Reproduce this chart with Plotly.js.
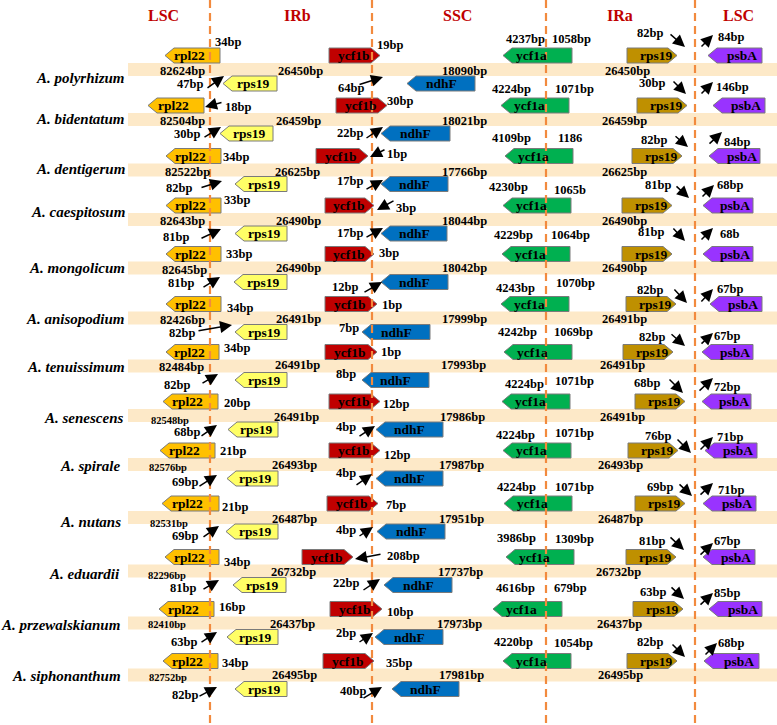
<!DOCTYPE html>
<html><head><meta charset="utf-8">
<script src="https://cdn.plot.ly/plotly-3.0.1.min.js"></script>
<style>html,body{margin:0;padding:0;background:#fff}</style>
</head><body><div id="chart" style="width:777px;height:725px"></div>
<script>
// ================= DATA =================
const species = ['A. polyrhizum','A. bidentatum','A. dentigerum','A. caespitosum','A. mongolicum','A. anisopodium','A. tenuissimum','A. senescens','A. spirale','A. nutans','A. eduardii','A. przewalskianum','A. siphonanthum'];
const regions = ['LSC','IRb','SSC','IRa','LSC'];
const lscLen = ['82624bp','82504bp','82522bp','82643bp','82645bp','82426bp','82484bp','82548bp','82576bp','82531bp','82296bp','82410bp','82752bp'];
const irbLen = ['26450bp','26459bp','26625bp','26490bp','26490bp','26491bp','26491bp','26491bp','26493bp','26487bp','26732bp','26437bp','26495bp'];
const sscLen = ['18090bp','18021bp','17766bp','18044bp','18042bp','17999bp','17993bp','17986bp','17987bp','17951bp','17737bp','17973bp','17981bp'];
const iraLen = ['26450bp','26459bp','26625bp','26490bp','26490bp','26491bp','26491bp','26491bp','26493bp','26487bp','26732bp','26437bp','26495bp'];
const rpl22Gap = ['34bp','18bp','34bp','33bp','33bp','34bp','34bp','20bp','21bp','21bp','34bp','16bp','34bp'];
const rps19bGap = ['47bp','30bp','82bp','81bp','81bp','82bp','82bp','68bp','69bp','69bp','81bp','63bp','82bp'];
const ycf1bGap = ['19bp','30bp','1bp','3bp','3bp','1bp','1bp','12bp','12bp','7bp','208bp','10bp','35bp'];
const ndhFGap = ['64bp','22bp','17bp','17bp','12bp','7bp','8bp','4bp','4bp','4bp','22bp','2bp','40bp'];
const ycf1aSSC = ['4237bp','4224bp','4109bp','4230bp','4229bp','4243bp','4242bp','4224bp','4224bp','4224bp','3986bp','4616bp','4220bp'];
const ycf1aIRa = ['1058bp','1071bp','1186','1065b','1064bp','1070bp','1069bp','1071bp','1071bp','1071bp','1309bp','679bp','1054bp'];
const rps19aGap = ['82bp','30bp','82bp','81bp','81bp','82bp','82bp','68bp','76bp','69bp','81bp','63bp','82bp'];
const psbAGap = ['84bp','146bp','84bp','68bp','68b','67bp','67bp','72bp','71bp','71bp','67bp','85bp','68bp'];

// gene extents along the diagram scale (start, end)
const rpl22Start = [165,148,166,166,166,166,166,163,160,162,165,159,163];
const rpl22End   = [220,204,221,221,221,221,219,218,215,219,219,214,218];
const ycf1bStart = [329,336,316,325,325,325,325,329,329,327,302,330,323];
const ycf1bEnd   = [380,387,368,374,374,377,377,380,380,378,353,382,374];
const ycf1aStart = [503,501,505,503,502,501,504,502,503,504,506,493,503];
const ycf1aEnd   = [572,569,573,571,570,569,572,570,571,572,574,562,571];
const rps19aStart= [627,637,632,622,622,626,623,635,628,635,626,633,627];
const rps19aEnd  = [677,687,682,672,672,676,673,685,678,685,676,683,677];
const psbAStart  = [708,713,709,703,703,710,702,702,705,703,703,709,704];
const psbAEnd    = [762,765,760,753,753,762,753,751,757,756,755,762,759];
const rps19bStart= [223,220,235,235,234,235,235,228,227,226,233,227,235];
const rps19bEnd  = [277,273,287,287,287,287,287,278,278,278,286,278,287];
const ndhFStart  = [407,381,381,381,381,362,362,376,376,377,384,375,392];
const ndhFEnd    = [475,450,448,447,448,430,429,443,443,445,452,443,459];

// ================= LAYOUT (positions) =================
const W = 777, H = 725;
const SERIF = '"Liberation Serif", "Times New Roman", serif';
const rowY = [69.5,119.5,170,219.5,268,318,366,415.5,464.5,517.5,571,623,675];
const bandHalf = 6.5, geneH = 15, tip = 9;
const boundaries = [210,372,546,695];
const regionX = [163,297,457,620,738];
const speciesDy = [8.5,-0.5,-1,-7.5,0,1,1,2.5,1.5,4.5,3,2,1];
const speciesX = [127,127,127,127,127,127,127,125,123,123,122,122,123];
const lscX = [182,182,187,182,184,182,181,170,168,169,167,167,168];
const lscDy = [1.5,1.5,2,1.5,2,2,1,4.5,2.5,5.5,4,1,2];
const irbX = [300,298,297,298,298,298,297,296,294,294,293,292,294];
const sscX = [464,464,464,464,464,464,463,462,461,461,460,459,461];
const iraX = [627,624,624,624,624,624,622,622,620,620,618,619,620];
const midDy = [1.5,1.5,2,1.5,-0.5,1,-1,1.5,0,1.5,1,1,0];

const LBL = {
  rpl22: [[228,-27.5],[238,-12.5],[236,-13],[237,-19.5],[239,-14],[240,-10],[237,-18],[237,-12.5],[233,-13.5],[235,-10.5],[237,-9],[232,-16],[235,-12]],
  rps19b:[[190,14.5],[187,14.5],[179,18],[176,17.5],[181,15],[182,15],[177,19],[187,16.5],[185,17.5],[185,18.5],[183,17],[184,19],[185,20]],
  ycf1b: [[390,-24.5],[400,-18.5],[397,-16],[406,-11.5],[389,-15],[392,-13],[391,-14],[396,-11.5],[397,-9.5],[396,-12.5],[403,-15],[400,-11],[399,-12]],
  ndhF:  [[351,18.5],[350,13.5],[350,11],[350,13.5],[345,19],[349,10],[346,8],[346,11.5],[346,8.5],[346,12.5],[346,12],[346,10],[353,16]],
  ssc:   [[525,-30.5],[511,-30.5],[511,-32],[508,-32.5],[513,-33],[515,-30],[517,-34],[524,-31.5],[515,-29.5],[516,-30.5],[516,-33],[515,-35],[513,-33]],
  ira:   [[571,-30.5],[574,-30.5],[570,-32],[570,-29.5],[570,-33],[575,-35],[573,-34],[574,-34.5],[574,-31.5],[574,-30.5],[574,-32],[570,-35],[573,-32]],
  rps19a:[[650,-36.5],[652,-36.5],[654,-30],[658,-34.5],[651,-36],[650,-28],[652,-29],[647,-32.5],[658,-28.5],[660,-30.5],[652,-30],[653,-31],[650,-33]],
  psbA:  [[731,-32.5],[732,-32.5],[737,-28],[730,-34.5],[730,-34],[730,-29],[727,-30],[727,-28.5],[730,-27.5],[731,-28],[727,-30],[727,-30],[731,-32]]
};
const ARR = {
  rpl22: [null,[223,-17.5,205,-12.5],null,null,null,null,null,null,null,null,null,null,null],
  rps19b:[[206,19.5,224,6.5],[203,18.5,221,7.5],[200,18,222,11],[200,19.5,221,9.5],[202,20,220,9],[197,13,232,7],[201,18,218,8],[200,21.5,217,9.5],[198,22.5,217,10.5],[202,20.5,219,8.5],[202,19,219,9],[200,20,217,9],[198,22,217,12]],
  ycf1b: [null,null,[386,-21,370,-13],[395,-19.5,377,-9.5],null,null,null,null,null,null,[382,-17,355,-12],null,null],
  ndhF:  [[358,15.5,383,7.5],[365,19.5,383,7.5],[365,20,383,10],[365,18.5,383,8.5],[363,25,382,14],null,null,[358,21.5,375,10.5],[355,21.5,372,9.5],[358,19.5,373,9.5],[362,20,380,8],[358,20,373,10],[362,24,382,12]],
  rps19a:[[669,-36.5,685,-22.5],[672,-39.5,686,-25.5],[674,-35,688,-23],[675,-34.5,689,-21.5],[672,-41,685,-27],[673,-30,687,-15],[670,-33,685,-20],[668,-37.5,683,-22.5],[676,-26.5,691,-11.5],[678,-34.5,692,-21.5],[669,-35,684,-21],[670,-37,684,-24],[671,-32,685,-18]],
  psbA:  [[700,-21.5,713,-34.5],[700,-24.5,713,-37.5],[708,-25,722,-38],[701,-21.5,714,-34.5],[700,-27,713,-40],[700,-15,713,-29],[700,-21,713,-33],[698,-23.5,713,-37.5],[699,-13.5,713,-27.5],[699,-21.5,713,-34.5],[699,-15,713,-28],[699,-17,713,-30],[704,-19,717,-32]]
};

const GENES = [
  {name:'rpl22', s:rpl22Start, e:rpl22End, side:'top', dir:'L', color:'#FFC000', dx:-3},
  {name:'ycf1b', s:ycf1bStart, e:ycf1bEnd, side:'top', dir:'R', color:'#C00000', dx:-1},
  {name:'ycf1a', s:ycf1aStart, e:ycf1aEnd, side:'top', dir:'L', color:'#00B050', dx:-6},
  {name:'rps19', s:rps19aStart, e:rps19aEnd, side:'top', dir:'R', color:'#BF9000', dx:4},
  {name:'psbA',  s:psbAStart, e:psbAEnd, side:'top', dir:'L', color:'#9933FF', dx:7},
  {name:'rps19', s:rps19bStart, e:rps19bEnd, side:'bot', dir:'L', color:'#FFFF66', dx:3},
  {name:'ndhF',  s:ndhFStart, e:ndhFEnd, side:'bot', dir:'L', color:'#0070C0', dx:0}
];

// ================= BUILD =================
const shapes = [], ann = [];
function genePath(x0, x1, yT, yB, dir){
  const yc = (yT+yB)/2;
  if (dir === 'L') return `M${x0},${yc} L${x0+tip},${yT} L${x1},${yT} L${x1},${yB} L${x0+tip},${yB} Z`;
  return `M${x0},${yT} L${x1-tip},${yT} L${x1},${yc} L${x1-tip},${yB} L${x0},${yB} Z`;
}
function txt(x, y, text, size, extra){
  return Object.assign({x, y, xref:'x', yref:'y', text:'<b>'+text+'</b>', showarrow:false,
    xanchor:'center', yanchor:'middle', font:{family:SERIF, size, color:'#000'}}, extra||{});
}
function arrow(a, yc){
  if (!a) return;
  ann.push({x:a[2], y:yc+a[3], ax:a[0], ay:yc+a[1], xref:'x', yref:'y', axref:'x', ayref:'y',
    text:'', showarrow:true, arrowhead:2, arrowsize:1.6, arrowwidth:1.5, arrowcolor:'#000', standoff:0, startstandoff:0});
}

species.forEach((sp, i) => {
  const y = rowY[i];
  shapes.push({type:'rect', xref:'x', yref:'y', x0:128, x1:W, y0:y-bandHalf, y1:y+bandHalf,
    fillcolor:'#FDE9C8', line:{width:0}, layer:'below'});
  ann.push(txt(speciesX[i], y+speciesDy[i], '<i>'+sp+'</i>', 15, {xanchor:'right'}));
  GENES.forEach(g => {
    const x0 = g.s[i], x1 = g.e[i];
    const yT = g.side === 'top' ? y-bandHalf-geneH : y+bandHalf;
    const yB = yT + geneH;
    shapes.push({type:'path', xref:'x', yref:'y', path:genePath(x0,x1,yT,yB,g.dir),
      fillcolor:g.color, line:{color:'#7a7a7a', width:1}, layer:'above'});
    ann.push(txt((x0+x1)/2 + g.dx, (yT+yB)/2, g.name, 13.5));
  });
  const small = i >= 7;
  ann.push(txt(lscX[i], y+lscDy[i], lscLen[i], small ? 10.5 : 12.5));
  ann.push(txt(irbX[i], y+midDy[i], irbLen[i], 12.5));
  ann.push(txt(sscX[i], y+midDy[i], sscLen[i], 12.5));
  ann.push(txt(iraX[i], y+midDy[i], iraLen[i], 12.5));
  const lab = (key, arr) => ann.push(txt(LBL[key][i][0], y+LBL[key][i][1], arr[i], 12.5));
  lab('rpl22', rpl22Gap); lab('rps19b', rps19bGap); lab('ycf1b', ycf1bGap); lab('ndhF', ndhFGap);
  lab('ssc', ycf1aSSC); lab('ira', ycf1aIRa); lab('rps19a', rps19aGap); lab('psbA', psbAGap);
  Object.keys(ARR).forEach(k => arrow(ARR[k][i], y));
});

boundaries.forEach(bx => shapes.push({type:'line', xref:'x', yref:'y', x0:bx, x1:bx, y0:0, y1:H,
  line:{color:'#F28A3E', width:2.2, dash:'8px,5px'}, layer:'above'}));
regions.forEach((r, k) => ann.push(txt(regionX[k], 15, r, 16, {font:{family:SERIF, size:16, color:'#C00000'}})));

const layout = {
  width:W, height:H, margin:{l:0,r:0,t:0,b:0}, paper_bgcolor:'#fff', plot_bgcolor:'#fff',
  showlegend:false,
  xaxis:{range:[0,W], showgrid:false, zeroline:false, showticklabels:false, ticks:'', showline:false, fixedrange:true},
  yaxis:{range:[H,0], showgrid:false, zeroline:false, showticklabels:false, ticks:'', showline:false, fixedrange:true},
  shapes, annotations:ann
};
Plotly.newPlot('chart', [{x:[], y:[], type:'scatter', mode:'markers', hoverinfo:'skip'}], layout, {staticPlot:true, displayModeBar:false});
</script></body></html>
